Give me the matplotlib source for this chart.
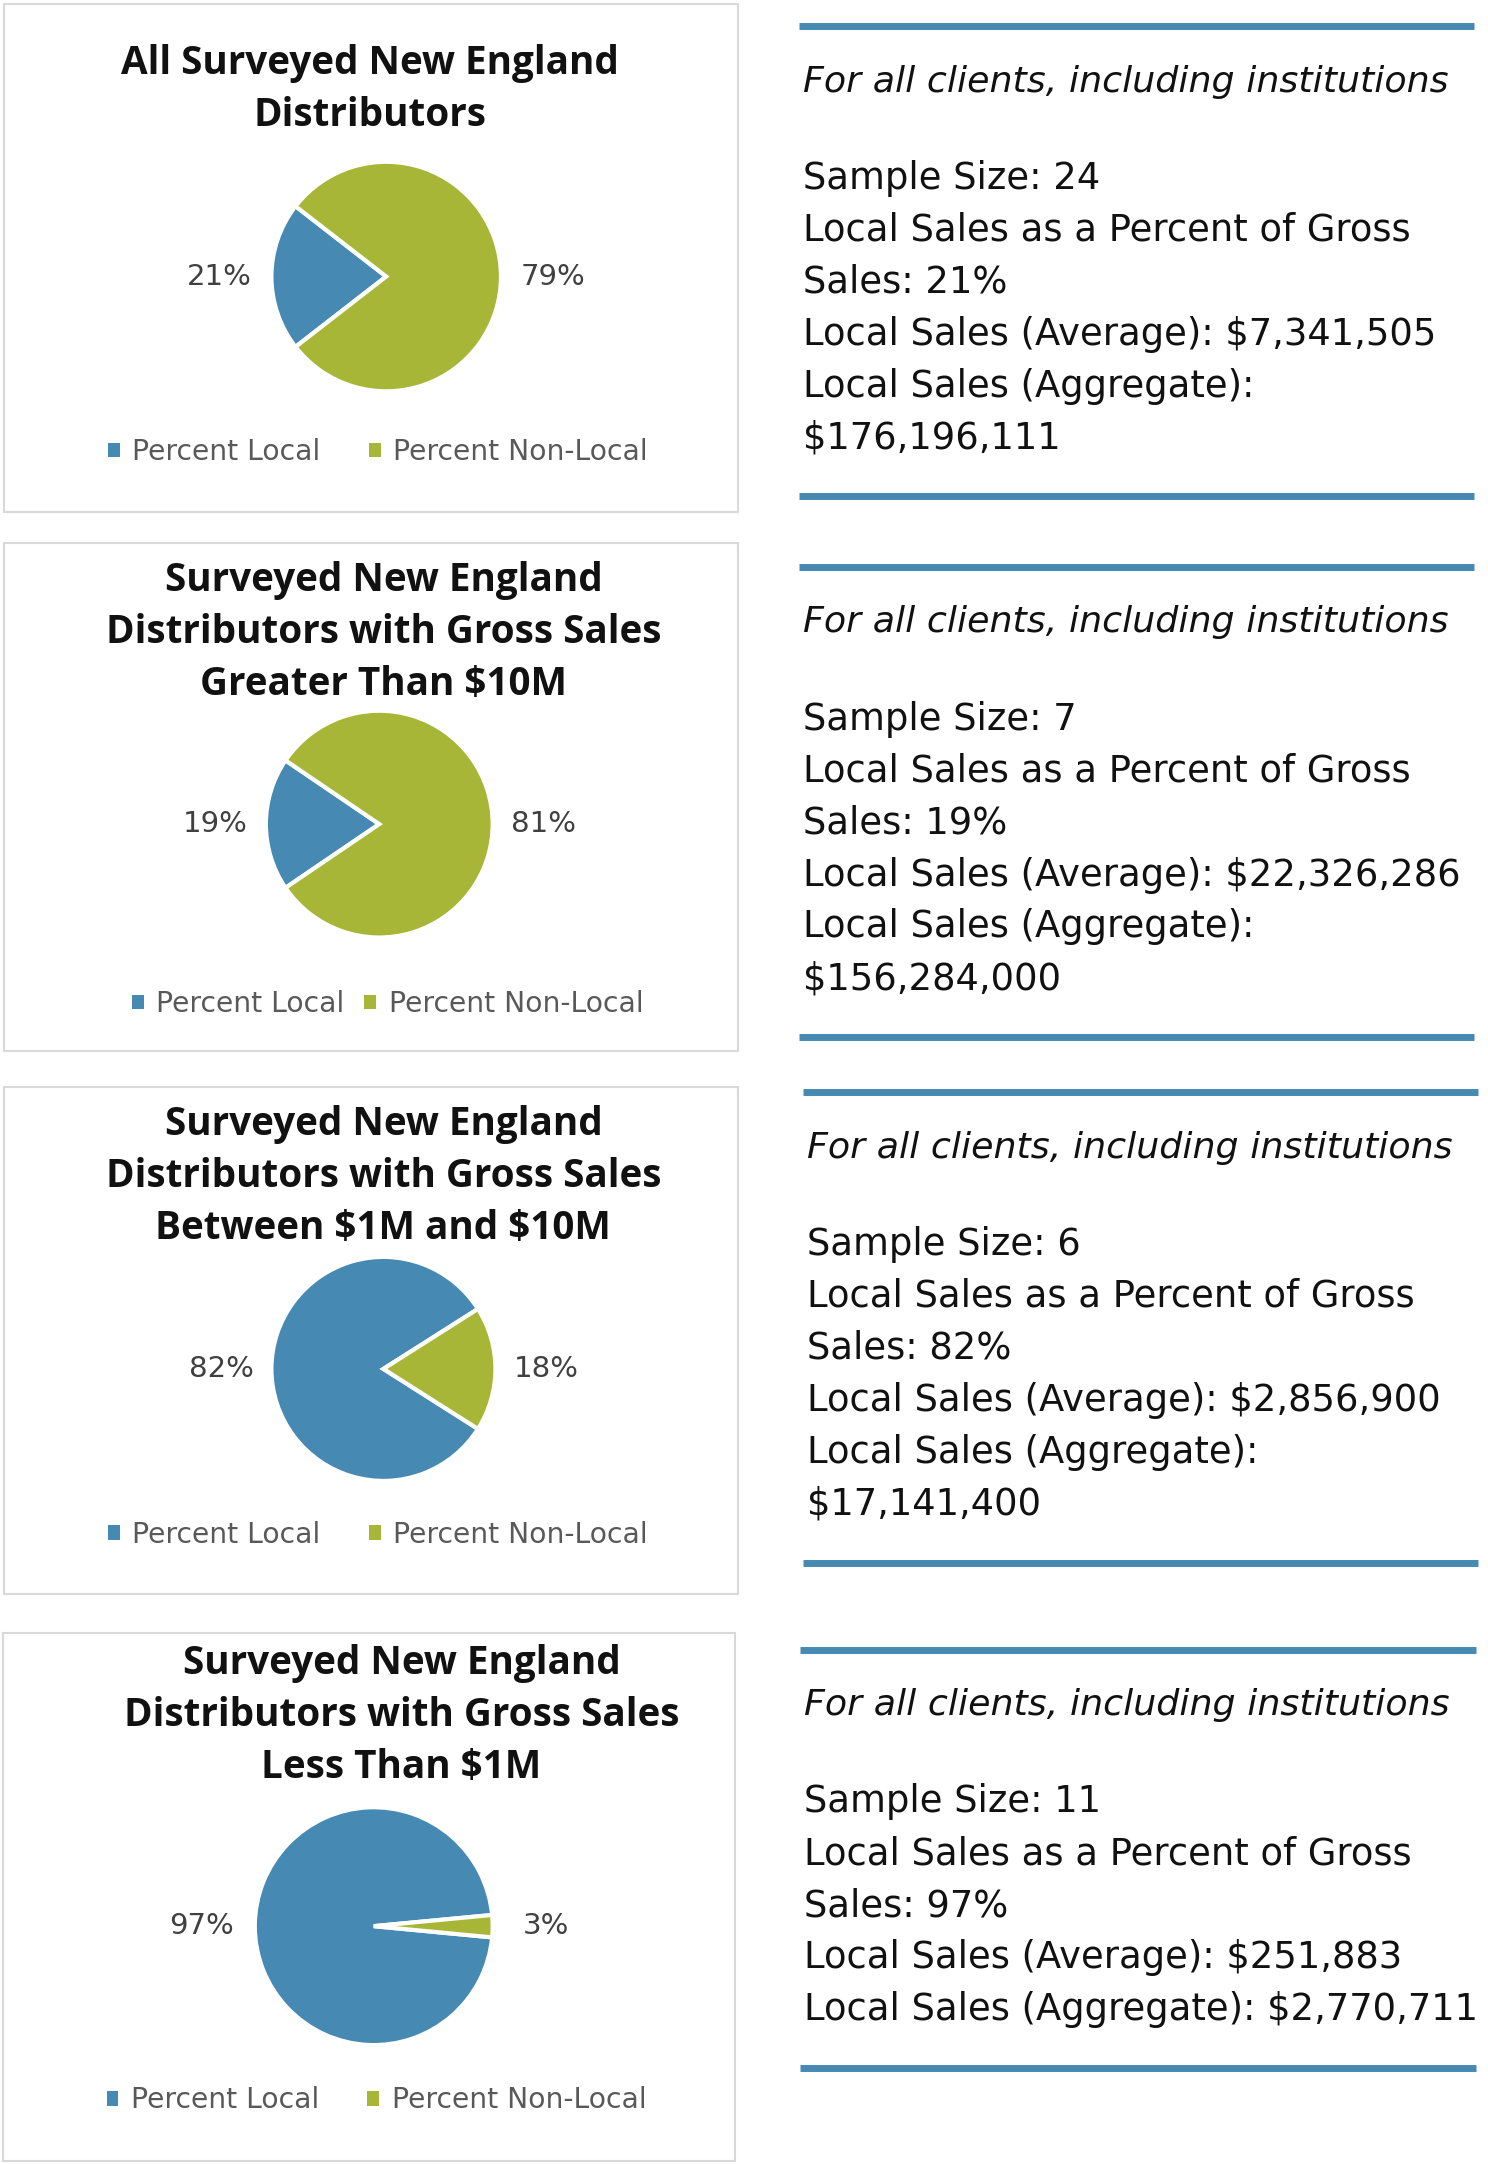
import matplotlib
matplotlib.use("Agg")
import matplotlib.pyplot as plt
from matplotlib.patches import Rectangle
from matplotlib.lines import Line2D

plt.rcParams['font.family'] = ['DejaVu Sans']
plt.rcParams['text.parse_math'] = False

# data
titles = [
    ["All Surveyed New England", "Distributors"],
    ["Surveyed New England", "Distributors with Gross Sales", "Greater Than $10M"],
    ["Surveyed New England", "Distributors with Gross Sales", "Between $1M and $10M"],
    ["Surveyed New England", "Distributors with Gross Sales", "Less Than $1M"],
]
categories = ["Percent Local", "Percent Non-Local"]
local_pct = [21, 19, 82, 97]
nonlocal_pct = [79, 81, 18, 3]
sample_sizes = [24, 7, 6, 11]
avg_sales = ["$7,341,505", "$22,326,286", "$2,856,900", "$251,883"]
agg_sales = ["$176,196,111", "$156,284,000", "$17,141,400", "$2,770,711"]
note = "For all clients, including institutions"

BLUE = "#4689B3"
GREEN = "#A7B637"

# layout (measured on a 1075 x 1565 grid)
W, H = 1075.0, 1565.0
boxes = [(3, 3, 533, 370), (3, 393, 533, 760), (3, 786, 533, 1153), (2, 1181, 531, 1563)]
pie_c = [(279, 200, 83), (274, 596, 82), (277, 990, 81), (270, 1393, 86)]
title_xy = [(267, 46), (277, 420), (277, 813), (290, 1203)]
legend_y = [327, 726, 1110, 1519]
legend_x = [273, 280, 273, 272]
legend_gap = [1.7, 0.7, 1.7, 1.7]
panel_top = [19, 410, 790, 1193]
panel_x = [(577, 1065, 580), (577, 1065, 580), (580, 1068, 583), (578, 1066, 581)]
LS = 37.6


def fx(x):
    return x / W


def fy(y):
    return 1 - y / H


fig = plt.figure(figsize=(14.88, 21.64), dpi=100, facecolor='w')

for i in range(4):
    x0, y0, x1, y1 = boxes[i]
    fig.add_artist(Rectangle((fx(x0), fy(y1)), fx(x1) - fx(x0), fy(y0) - fy(y1),
                             transform=fig.transFigure, fill=False,
                             edgecolor='#D9D9D9', linewidth=1.5))

    # title
    tx, ty = title_xy[i]
    for k, line in enumerate(titles[i]):
        fig.text(fx(tx), fy(ty + k * LS), line, ha='center', va='center',
                 fontsize=27.8, fontweight='bold', family=['Open Sans', 'DejaVu Sans'],
                 color='#111111')

    # pie
    cx, cy, r = pie_c[i]
    ax = fig.add_axes([fx(cx - r), fy(cy + r), fx(2 * r), (2 * r) / H])
    vals = [local_pct[i], nonlocal_pct[i]]
    start = 180 - local_pct[i] * 3.6 / 2
    wedges, texts = ax.pie(vals, colors=[BLUE, GREEN], startangle=start,
                           labels=[f"{v}%" for v in vals], labeldistance=1.45,
                           wedgeprops=dict(edgecolor='white', linewidth=3),
                           textprops=dict(fontsize=21, color='#404040'))
    for t in texts:
        t.set_ha('center')
        t.set_va('center')
    ax.set_xlim(-1, 1)
    ax.set_ylim(-1, 1)
    ax.set_aspect('equal')

    handles = [Rectangle((0, 0), 1, 1, facecolor=c, edgecolor='none') for c in (BLUE, GREEN)]
    fig.legend(handles, categories, loc='center', ncol=2,
               bbox_to_anchor=(fx(legend_x[i]), fy(legend_y[i])),
               frameon=False, fontsize=20.3, labelcolor='#595959',
               handlelength=0.42, handleheight=0.42, handletextpad=0.45,
               columnspacing=legend_gap[i])

    # right hand text panel
    lx0, lx1, txt_x = panel_x[i]
    top = panel_top[i]
    fig.text(fx(txt_x), fy(top + 40), note, ha='left', va='center',
             fontsize=26.2, fontstyle='italic', color='#111111')
    lines = [f"Sample Size: {sample_sizes[i]}",
             "Local Sales as a Percent of Gross",
             f"Sales: {local_pct[i]}%",
             f"Local Sales (Average): {avg_sales[i]}"]
    agg_line = f"Local Sales (Aggregate): {agg_sales[i]}"
    if len(agg_line) > 35:
        lines += ["Local Sales (Aggregate):", agg_sales[i]]
    else:
        lines.append(agg_line)
    for k, line in enumerate(lines):
        fig.text(fx(txt_x), fy(top + 110 + k * LS), line, ha='left', va='center',
                 fontsize=26.6, color='#111111')
    bottom = top + 110 + (len(lines) - 1) * LS + 42
    for yy in (top, bottom):
        fig.add_artist(Line2D([fx(lx0), fx(lx1)], [fy(yy), fy(yy)],
                              transform=fig.transFigure, color=BLUE,
                              linewidth=5, solid_capstyle='butt'))

fig.savefig("out.png", dpi=100, facecolor='w')
